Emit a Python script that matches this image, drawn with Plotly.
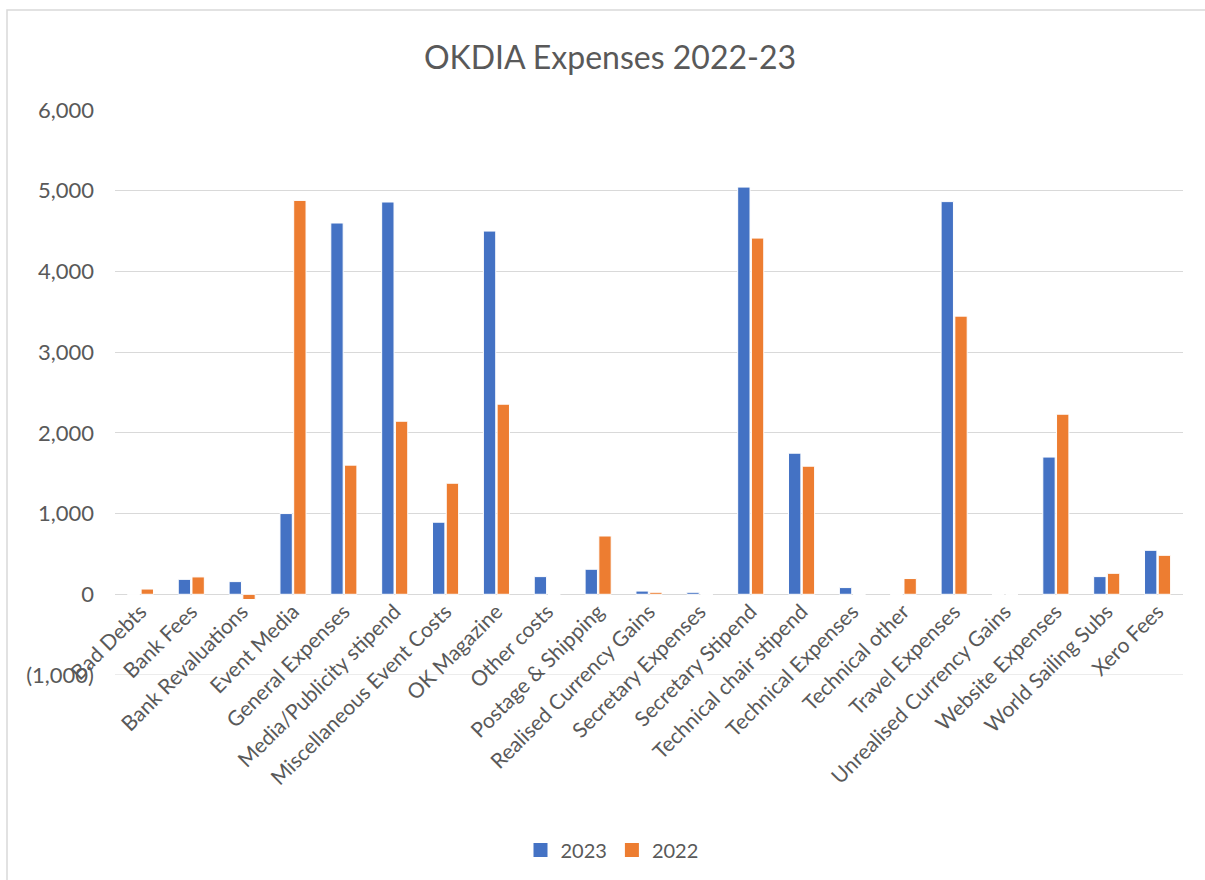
import plotly.graph_objects as go

categories = ["Bad Debts", "Bank Fees", "Bank Revaluations", "Event Media", "General Expenses",
              "Media/Publicity stipend", "Miscellaneous Event Costs", "OK Magazine", "Other costs",
              "Postage & Shipping", "Realised Currency Gains", "Secretary Expenses", "Secretary Stipend",
              "Technical chair stipend", "Technical Expenses", "Technical other", "Travel Expenses",
              "Unrealised Currency Gains", "Website Expenses", "World Sailing Subs", "Xero Fees"]
values_2023 = [0, 185, 157, 1000, 4600, 4860, 893, 4500, 219, 310, 40, 25, 5045, 1748, 83, 0, 4865, 0, 1700, 219, 545]
values_2022 = [65, 215, -65, 4880, 1600, 2144, 1376, 2355, 0, 722, 25, 0, 4413, 1587, 0, 195, 3446, 0, 2231, 260, 483]
tick_vals = [-1000, 0, 1000, 2000, 3000, 4000, 5000, 6000]
tick_text = ["(1,000)", "0", "1,000", "2,000", "3,000", "4,000", "5,000", "6,000"]
series_names = ["2023", "2022"]
series_colors = ["#4472C4", "#ED7D31"]

W, H = 1205, 880
L, R, T, B = 115, 1183, 110, 675
txt = "#595959"
font = "Lato, 'Open Sans', sans-serif"
ymin, ymax = -1000, 6000
grid = "#D9D9D9"

fig = go.Figure()
for name, vals, col in zip(series_names, [values_2023, values_2022], series_colors):
    fig.add_bar(x=categories, y=vals, name=name, showlegend=False,
                marker=dict(color=col, line=dict(color="white", width=1)))
for name, col in zip(series_names, series_colors):
    fig.add_scatter(x=[None], y=[None], mode="markers", name=name,
                    marker=dict(symbol="square", size=14, color=col))

fig.update_layout(
    width=W, height=H,
    margin=dict(l=L, r=W - R, t=T, b=H - B, autoexpand=False),
    paper_bgcolor="white", plot_bgcolor="white",
    font=dict(family=font, color=txt, size=20),
    title=dict(text="OKDIA Expenses 2022-23", x=610 / W, xanchor="center", y=1 - 58 / H, yanchor="middle",
               font=dict(size=32, color=txt, family=font)),
    barmode="group", bargap=0.46, bargroupgap=0.1,
    showlegend=True,
    legend=dict(orientation="h", x=(612 - L) / (R - L), xanchor="center", y=(B - 850) / (B - T), yanchor="middle",
                font=dict(size=20, color=txt), traceorder="normal", itemwidth=30),
    xaxis=dict(tickangle=-45, showgrid=False, showline=False, ticks="", tickfont=dict(size=21, color=txt),
               automargin=False, anchor="free", position=(0 - ymin) / (ymax - ymin)),
    yaxis=dict(range=[ymin, ymax], tickvals=tick_vals, ticktext=tick_text, showgrid=True, gridcolor=grid,
               gridwidth=1, zeroline=True, zerolinecolor=grid, zerolinewidth=1, showline=False, ticks="",
               tickfont=dict(size=22, color=txt), ticklabelstandoff=20, automargin=False),
    shapes=[dict(type="rect", xref="paper", yref="paper", x0=(7 - L) / (R - L), x1=(1215 - L) / (R - L),
                 y0=(B - 890) / (B - T), y1=(B - 10) / (B - T), line=dict(color=grid, width=1.5),
                 fillcolor="rgba(0,0,0,0)", layer="below"),
            dict(type="line", xref="paper", yref="y", x0=0, x1=1, y0=ymin, y1=ymin,
                 line=dict(color=grid, width=1), layer="below")],
)

fig.write_html("out.html", config={"displayModeBar": False},
               post_script="document.body.style.margin='0';document.body.style.overflow='hidden';")
